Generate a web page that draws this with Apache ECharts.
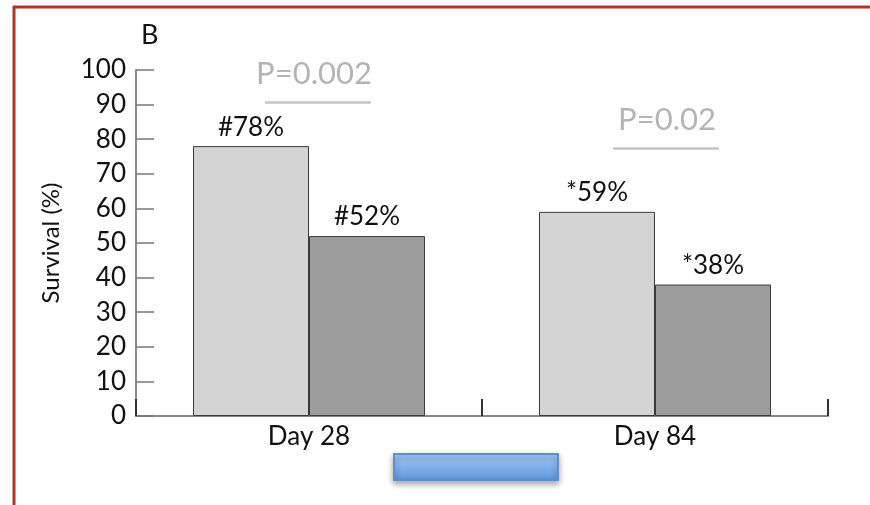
<!DOCTYPE html>
<html>
<head>
<meta charset="utf-8">
<script src="https://cdn.jsdelivr.net/npm/echarts@6/dist/echarts.min.js"></script>
<style>
  html, body { margin: 0; padding: 0; background: #ffffff; }
  #chart { width: 870px; height: 505px; }
</style>
</head>
<body>
<div id="chart"></div>
<script>
// Survival at two time points, two groups per time point
const categories = ['Day 28', 'Day 84'];
const groupA = [78, 59];          // lighter bars
const groupB = [52, 38];          // darker bars
const markPrefix = ['#', '*'];    // significance marks per time point
const pValues = ['P=0.002', 'P=0.02'];
const yTicks = { min: 0, max: 100, interval: 10 };

const FONT = 'Lato, "Noto Sans", sans-serif';

const chart = echarts.init(document.getElementById('chart'), null, { renderer: 'canvas' });

function barLabel() {
  return {
    show: true,
    position: 'top',
    distance: 6,
    fontFamily: FONT,
    fontSize: 26,
    color: '#111111',
    formatter: p => markPrefix[p.dataIndex] + p.value + '%'
  };
}

const option = {
  animation: false,
  backgroundColor: '#ffffff',
  title: {
    text: 'B',
    left: 141,
    top: 22,
    padding: 0,
    textStyle: { fontFamily: FONT, fontSize: 27, fontWeight: 'normal', color: '#111111' }
  },
  grid: { left: 136, right: 42, top: 70, bottom: 89 },
  xAxis: {
    type: 'category',
    data: categories,
    axisLine: { lineStyle: { color: '#8a8a8a', width: 2 } },
    axisTick: { show: true, inside: true, length: 17, lineStyle: { color: '#333333', width: 2 } },
    axisLabel: { fontFamily: FONT, fontSize: 26, color: '#111111', margin: 8 },
    splitLine: { show: false }
  },
  yAxis: {
    type: 'value',
    min: yTicks.min,
    max: yTicks.max,
    interval: yTicks.interval,
    name: 'Survival (%)',
    nameLocation: 'middle',
    nameRotate: 90,
    nameGap: 73,
    nameTextStyle: { fontFamily: FONT, fontSize: 24, color: '#111111' },
    axisLine: { show: true, lineStyle: { color: '#8a8a8a', width: 2 } },
    axisTick: { show: true, inside: true, length: 18, lineStyle: { color: '#777777', width: 1.5 } },
    axisLabel: { fontFamily: FONT, fontSize: 26, color: '#111111', margin: 10 },
    splitLine: { show: false }
  },
  series: [
    {
      type: 'bar',
      data: groupA,
      barWidth: 116,
      barGap: '0%',
      itemStyle: { color: '#d4d4d4', borderColor: '#3a3a3a', borderWidth: 1 },
      label: barLabel()
    },
    {
      type: 'bar',
      data: groupB,
      barWidth: 116,
      barGap: '0%',
      itemStyle: { color: '#9d9d9d', borderColor: '#3a3a3a', borderWidth: 1 },
      label: barLabel()
    }
  ],
  graphic: [
    // frame lines along the top and left edges
    { type: 'line', shape: { x1: 13, y1: 7, x2: 870, y2: 7 }, style: { stroke: '#b0321f', lineWidth: 3 } },
    { type: 'line', shape: { x1: 14, y1: 6, x2: 14, y2: 505 }, style: { stroke: '#b0321f', lineWidth: 3 } },
    // p-value annotations
    { type: 'text', x: 314, y: 74, style: { text: pValues[0], font: '31px Lato, "Noto Sans", sans-serif', fill: '#b4b4b4', align: 'center', verticalAlign: 'middle' } },
    { type: 'line', shape: { x1: 265, y1: 102.5, x2: 371, y2: 102.5 }, style: { stroke: '#c4c4c4', lineWidth: 2.5 } },
    { type: 'text', x: 667, y: 120, style: { text: pValues[1], font: '31px Lato, "Noto Sans", sans-serif', fill: '#b4b4b4', align: 'center', verticalAlign: 'middle' } },
    { type: 'line', shape: { x1: 613, y1: 148.5, x2: 719, y2: 148.5 }, style: { stroke: '#c4c4c4', lineWidth: 2.5 } },
    // blue box below the axis
    {
      type: 'rect',
      shape: { x: 394, y: 454, width: 164, height: 26 },
      style: {
        fill: new echarts.graphic.LinearGradient(0, 0, 0, 1, [
          { offset: 0, color: '#a9cbfa' },
          { offset: 1, color: '#5b95dc' }
        ]),
        stroke: '#5b8fd1',
        lineWidth: 2,
        shadowBlur: 6,
        shadowOffsetY: 3,
        shadowColor: 'rgba(0,0,0,0.35)'
      }
    }
  ]
};

chart.setOption(option);
</script>
</body>
</html>
